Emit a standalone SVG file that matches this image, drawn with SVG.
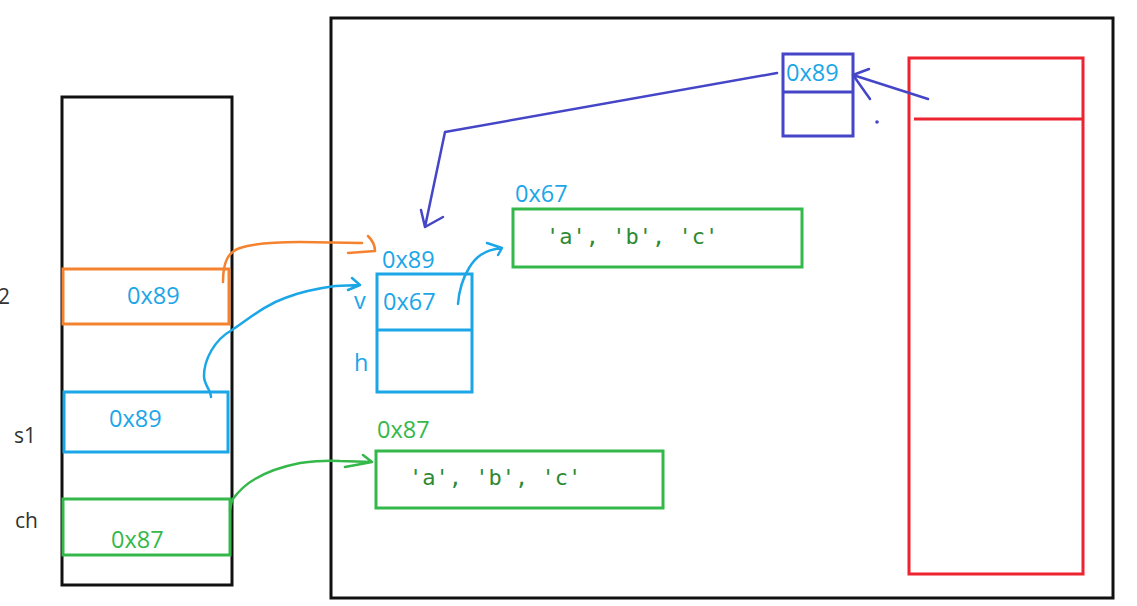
<svg xmlns="http://www.w3.org/2000/svg" width="1137" height="606" viewBox="0 0 1137 606">
<style>
.addr{font-family:"Open Sans","Noto Sans",sans-serif;font-size:23.5px}
.blue{fill:#1ba6e8}
.grn{fill:#35b84a}
.lbl{font-family:"Open Sans","Noto Sans",sans-serif;font-size:21px;fill:#333}
.chars{font-family:"DejaVu Sans Mono",monospace;font-size:22px;fill:#2e8a34;white-space:pre}
.box{fill:none;stroke-width:3}
.ln{fill:none;stroke-width:2.5;stroke-linecap:round;stroke-linejoin:round}
</style>
<rect width="1137" height="606" fill="#fff"/>
<g id="stack">
<rect x="62" y="97" width="170" height="488" fill="none" stroke="#111" stroke-width="3"/>
</g>
<g id="heap">
<rect x="331" y="18" width="782" height="580" fill="none" stroke="#111" stroke-width="3"/>
</g>
<g id="s2">
<rect class="box" x="63" y="269" width="166" height="55" stroke="#f5822e"/>
<text class="addr blue" x="127" y="304">0x89</text>
<text class="lbl" x="-2" y="304">2</text>
</g>
<g id="s1">
<rect class="box" x="64" y="392" width="164" height="60" stroke="#1ba6e8"/>
<text class="addr blue" x="109" y="427">0x89</text>
<text class="lbl" x="14" y="443">s1</text>
</g>
<g id="ch">
<rect class="box" x="63" y="499" width="167" height="56" stroke="#35b84a"/>
<text class="addr grn" x="111" y="548">0x87</text>
<text class="lbl" x="15" y="528">ch</text>
</g>
<g id="obj89">
<rect class="box" x="377" y="274" width="95" height="118" stroke="#1ba6e8"/>
<line x1="377" y1="330" x2="472" y2="330" stroke="#1ba6e8" stroke-width="3"/>
<text class="addr blue" x="382" y="268">0x89</text>
<text class="addr blue" x="383" y="310">0x67</text>
<text class="addr blue" x="354" y="309">v</text>
<text class="addr blue" x="354" y="371">h</text>
</g>
<g id="arr67">
<rect class="box" x="513" y="209" width="289" height="58" stroke="#35b84a"/>
<text class="addr blue" x="515" y="202">0x67</text>
<text class="chars" x="546" y="244">'a', 'b', 'c'</text>
</g>
<g id="arr87">
<rect class="box" x="376" y="451" width="287" height="57" stroke="#35b84a"/>
<text class="addr grn" x="377" y="438">0x87</text>
<text class="chars" x="409" y="485">'a', 'b', 'c'</text>
</g>
<g id="ref89">
<rect class="box" x="783" y="54" width="70" height="82" stroke="#4545c8"/>
<line x1="783" y1="92" x2="853" y2="92" stroke="#4545c8" stroke-width="3"/>
<text class="addr blue" x="786" y="81">0x89</text>
</g>
<g id="redbox">
<rect class="box" x="909" y="58" width="174" height="516" stroke="#ee2330"/>
<line x1="914" y1="119" x2="1082" y2="119" stroke="#ee2330" stroke-width="3"/>
</g>
<g id="connectors">
<path class="ln" stroke="#4545c8" stroke-width="3" d="M928,99 L853,75 M853,75 L869,69 M853,75 L870,99"/>
<circle cx="877" cy="122" r="1.8" fill="#4545c8"/>
<path class="ln" stroke="#4545c8" stroke-width="3" d="M777,73 L445,132 L425,227 M425,227 L421,210 M425,227 L443,217"/>
<path class="ln" stroke="#f5822e" d="M223,282 C223,262 228,252 240,248 C255,243 275,242 300,242 L362,243 M368,236 C372,240 375,246 375,251 L348,253"/>
<path class="ln" stroke="#1ba6e8" d="M211,397 C211,390 204,385 204,376 C204,360 214,340 232,330 C250,318 265,305 285,298 C300,292 320,288 335,286 L360,285 M352,278 L360,285 L348,290"/>
<path class="ln" stroke="#1ba6e8" d="M458,304 C459,290 463,278 469,268 C475,258 483,250 502,248 M487,243 L502,248 L498,255"/>
<path class="ln" stroke="#35b84a" d="M230,510 L232,500 C238,492 246,484 255,479 C270,470 285,466 300,463 C315,461 325,460 340,461 L372,462 M363,455 L372,462 L345,467"/>
</g>
</svg>
